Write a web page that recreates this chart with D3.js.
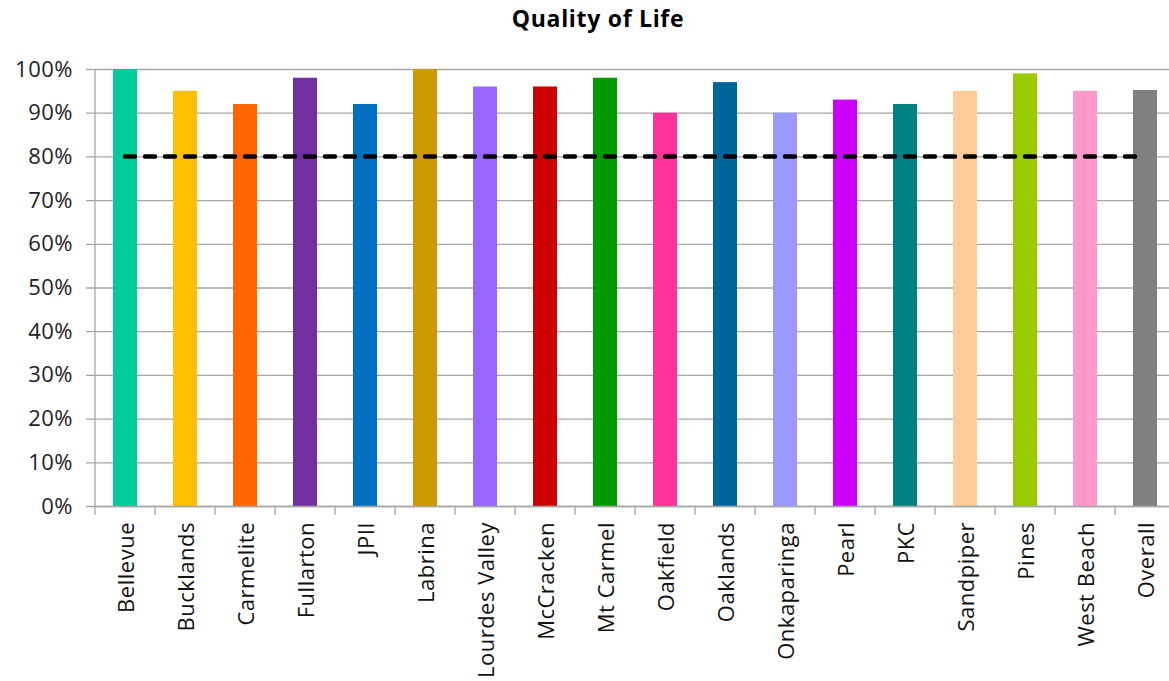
<!DOCTYPE html>
<html>
<head>
<meta charset="utf-8">
<script src="https://cdn.jsdelivr.net/npm/d3@7"></script>
<style>
  html, body { margin: 0; padding: 0; background: #fff; }
  svg { display: block; font-family: "Open Sans", sans-serif; }
</style>
</head>
<body>
<svg id="chart" width="1169" height="681"></svg>
<script>
// Quality of Life survey results by site
const categories = ["Bellevue", "Bucklands", "Carmelite", "Fullarton", "JPII", "Labrina",
  "Lourdes Valley", "McCracken", "Mt Carmel", "Oakfield", "Oaklands", "Onkaparinga",
  "Pearl", "PKC", "Sandpiper", "Pines", "West Beach", "Overall"];
const values = [1.00, 0.95, 0.92, 0.98, 0.92, 1.00, 0.96, 0.96, 0.98, 0.90, 0.97, 0.90,
  0.93, 0.92, 0.95, 0.99, 0.95, 0.952];
const target = [0.8, 0.8, 0.8, 0.8, 0.8, 0.8, 0.8, 0.8, 0.8, 0.8, 0.8, 0.8,
  0.8, 0.8, 0.8, 0.8, 0.8, 0.8];
const barColors = ["#00CC99", "#FFC000", "#FF6600", "#7030A0", "#0070C0", "#CC9900",
  "#9966FF", "#CC0000", "#009900", "#FF3399", "#006699", "#9999FF",
  "#CC00FF", "#008080", "#FFCC99", "#99CC00", "#FF99CC", "#808080"];
const yTicks = [0, 0.1, 0.2, 0.3, 0.4, 0.5, 0.6, 0.7, 0.8, 0.9, 1.0];

const svg = d3.select("#chart");
const plotLeft = 95, plotTop = 69, plotBottom = 506;
const plotRight = plotLeft + 60 * categories.length;

const x = d3.scaleBand().domain(categories).range([plotLeft, plotRight]).paddingInner(0.6).paddingOuter(0.3);
const y = d3.scaleLinear().domain([0, 1]).range([plotBottom, plotTop]);

// title
svg.append("text")
  .attr("x", 598).attr("y", 27)
  .attr("text-anchor", "middle")
  .attr("font-size", 23).attr("font-weight", "bold")
  .attr("letter-spacing", 0.7)
  .attr("fill", "#000")
  .text("Quality of Life");

// gridlines with y axis
const yAxis = d3.axisLeft(y).tickValues(yTicks).tickFormat(d3.format(".0%"))
  .tickSize(-(plotRight - plotLeft)).tickPadding(14);
const gy = svg.append("g").attr("transform", `translate(${plotLeft},0)`).call(yAxis);
gy.select(".domain").remove();
gy.selectAll(".tick line").attr("stroke", "#A6A6A6").attr("stroke-width", 1.3)
  .attr("x1", -9);
gy.selectAll(".tick text").attr("font-size", 22).attr("fill", "#222")
  .attr("letter-spacing", 0.5)
  .attr("font-family", "Open Sans, sans-serif").attr("x", -22);

// vertical axis line
svg.append("line")
  .attr("x1", plotLeft).attr("x2", plotLeft).attr("y1", plotTop).attr("y2", plotBottom)
  .attr("stroke", "#A6A6A6").attr("stroke-width", 1.3);

// bars
svg.append("g").selectAll("rect").data(categories).join("rect")
  .attr("x", d => x(d))
  .attr("width", x.bandwidth())
  .attr("y", (d, i) => y(values[i]))
  .attr("height", (d, i) => y(0) - y(values[i]))
  .attr("fill", (d, i) => barColors[i]);

// category axis
const xAxis = d3.axisBottom(x).tickSize(0).tickPadding(10);
const gx = svg.append("g").attr("transform", `translate(0,${plotBottom})`).call(xAxis);
gx.select(".domain").attr("stroke", "#A6A6A6").attr("stroke-width", 1.3);
gx.selectAll(".tick text")
  .attr("font-size", 22).attr("fill", "#111")
  .attr("letter-spacing", 0.5)
  .attr("font-family", "Open Sans, sans-serif")
  .attr("transform", "rotate(-90)")
  .attr("text-anchor", "end")
  .attr("x", -16).attr("y", 0).attr("dy", "0.4em");

// boundary tick marks between categories
const step = x.step();
const boundaries = d3.range(categories.length + 1).map(i => plotLeft + i * step);
gx.append("g").selectAll("line").data(boundaries).join("line")
  .attr("x1", d => d).attr("x2", d => d)
  .attr("y1", 0).attr("y2", 9)
  .attr("stroke", "#A6A6A6").attr("stroke-width", 1.3);

// target line
const line = d3.line()
  .x((d, i) => x(categories[i]) + x.bandwidth() / 2)
  .y(d => y(d));
svg.append("path")
  .datum(target)
  .attr("d", line)
  .attr("fill", "none")
  .attr("stroke", "#000")
  .attr("stroke-width", 4.5)
  .attr("stroke-linecap", "round")
  .attr("stroke-dasharray", "10 10");
</script>
</body>
</html>
